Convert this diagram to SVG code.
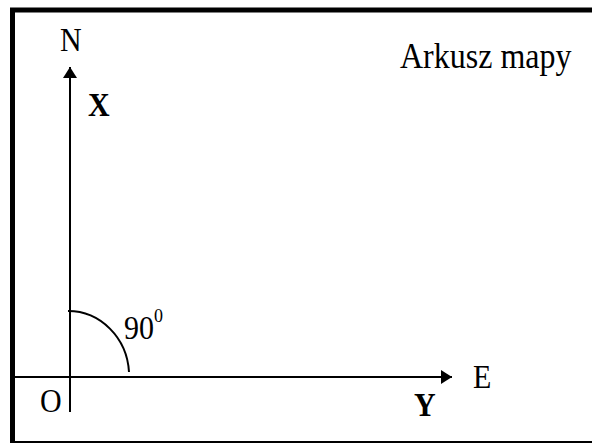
<svg xmlns="http://www.w3.org/2000/svg" width="592" height="443" viewBox="0 0 592 443">
<style>
.t{font-family:"Liberation Serif","Times New Roman",serif;fill:#000}
.b{font-weight:bold}
.ax{stroke:#000;stroke-width:2;fill:none}
</style>
<defs>
<marker id="ah" markerUnits="userSpaceOnUse" markerWidth="12" markerHeight="14" refX="11" refY="7" orient="auto">
<path d="M0,0 L11,7 L0,14 Z" fill="#000"/>
</marker>
</defs>
<rect width="592" height="443" fill="#fff"/>
<g id="frame"><rect x="12.5" y="10" width="600" height="433.5" fill="none" stroke="#000" stroke-width="5"/></g>
<g id="connectors">
<line class="ax" x1="70" y1="412" x2="70" y2="67" marker-end="url(#ah)"/>
<line class="ax" x1="14" y1="377" x2="452" y2="377" marker-end="url(#ah)"/>
<path class="ax" d="M68,311 A61,65 0 0 1 129,372"/>
</g>
<g id="labels">
<text class="t" x="60" y="51" font-size="30" transform="translate(0,-5.1) scale(1,1.1)" >N</text>
<text class="t" x="400" y="68" font-size="32" transform="translate(0,-6.8) scale(1,1.1)">Arkusz mapy</text>
<text class="t b" x="88" y="116" font-size="30" transform="translate(0,-11.6) scale(1,1.1)">X</text>
<text class="t" x="124" y="339" font-size="30" transform="translate(0,-33.9) scale(1,1.1)">90<tspan font-size="18" dy="-15">0</tspan></text>
<text class="t" x="40" y="412" font-size="30" transform="translate(0,-41.2) scale(1,1.1)">O</text>
<text class="t" x="473" y="388" font-size="30" transform="translate(0,-38.8) scale(1,1.1)">E</text>
<text class="t b" x="414" y="416" font-size="30" transform="translate(0,-41.6) scale(1,1.1)">Y</text>
</g>
</svg>
